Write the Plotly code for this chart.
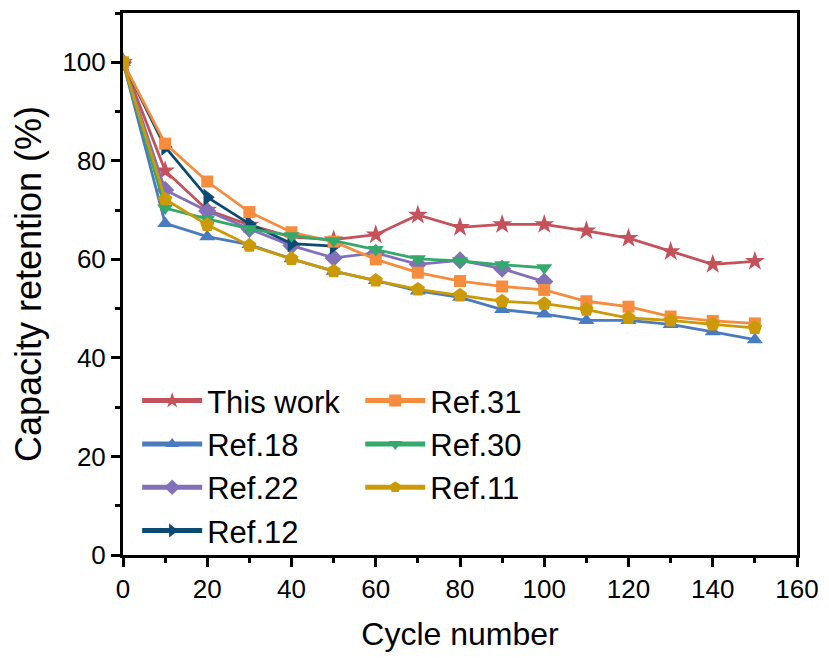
import plotly.graph_objects as go

cycles = [0, 10, 20, 30, 40, 50, 60, 70, 80, 90, 100, 110, 120, 130, 140, 150]

this_work = [100, 78.0, 70.0, 67.0, 64.5, 64.0, 65.0, 69.0, 66.5, 67.1, 67.1, 65.8, 64.3, 61.6, 59.0, 59.6]
ref18 = [100, 67.3, 64.6, 63.0, 60.1, 57.6, 55.7, 53.6, 52.3, 49.8, 48.9, 47.6, 47.6, 46.8, 45.3, 43.7]
ref22 = [100, 74.1, 69.8, 66.2, 62.8, 60.3, 61.3, 59.0, 59.8, 58.1, 55.5]
ref12 = [100, 82.8, 72.6, 67.2, 63.2, 62.7]
ref31 = [100, 83.5, 75.8, 69.6, 65.5, 63.6, 60.0, 57.3, 55.6, 54.5, 53.8, 51.5, 50.4, 48.4, 47.5, 47.0]
ref30 = [100, 70.4, 68.2, 66.2, 64.8, 63.8, 62.0, 60.1, 59.7, 58.9, 58.3]
ref11 = [100, 72.2, 67.0, 62.8, 60.1, 57.6, 55.7, 53.9, 52.7, 51.5, 51.0, 49.8, 48.1, 47.6, 46.8, 46.1]

series = [
    ("This work", this_work, "#C5525A", "star", 15, "legend"),
    ("Ref.18", ref18, "#4A7BBE", "triangle-up", 14, "legend"),
    ("Ref.22", ref22, "#8270B8", "diamond", 14, "legend"),
    ("Ref.12", ref12, "#0B4A72", "triangle-right", 15, "legend"),
    ("Ref.31", ref31, "#F58C3E", "square", 12, "legend2"),
    ("Ref.30", ref30, "#35A86B", "triangle-down", 14, "legend2"),
    ("Ref.11", ref11, "#CC9A06", "pentagon", 15, "legend2"),
]

fig = go.Figure()
for name, vals, col, sym, sz, lg in series:
    fig.add_trace(go.Scatter(
        x=cycles[:len(vals)], y=vals, name=name, mode="lines+markers",
        line=dict(color=col, width=2.8),
        marker=dict(symbol=sym, size=sz, color=col, line=dict(width=0)),
        legend=lg,
    ))

legend_font = dict(family="Liberation Sans, Arial, sans-serif", size=31, color="black")
fig.update_layout(
    width=829, height=662,
    margin=dict(l=123, r=29, t=10, b=107),
    paper_bgcolor="white", plot_bgcolor="white",
    showlegend=True,
    legend=dict(x=0.021, y=0.334, xanchor="left", yanchor="top", font=legend_font,
                bgcolor="rgba(0,0,0,0)", tracegroupgap=0, itemwidth=60, itemsizing="constant"),
    legend2=dict(x=0.352, y=0.334, xanchor="left", yanchor="top", font=legend_font,
                 bgcolor="rgba(0,0,0,0)", tracegroupgap=0, itemwidth=60, itemsizing="constant"),
)
tickfont = dict(family="Liberation Sans, Arial, sans-serif", size=26, color="black")
xtitlefont = dict(family="Liberation Sans, Arial, sans-serif", size=32, color="black")
ytitlefont = dict(family="Liberation Sans, Arial, sans-serif", size=36, color="black")
fig.update_xaxes(
    range=[0, 160], tickmode="linear", tick0=0, dtick=20,
    ticks="outside", ticklen=9, tickwidth=3, tickcolor="black",
    minor=dict(ticks="outside", ticklen=5, tickwidth=2.5, dtick=10, tickcolor="black"),
    showline=True, linewidth=3, linecolor="black", mirror=True,
    showgrid=False, zeroline=False, tickfont=tickfont,
    title=dict(text="Cycle number", font=xtitlefont, standoff=20),
)
fig.update_yaxes(
    range=[0, 110], tickmode="linear", tick0=0, dtick=20,
    ticks="outside", ticklen=9, tickwidth=3, tickcolor="black",
    minor=dict(ticks="outside", ticklen=5, tickwidth=2.5, dtick=10, tickcolor="black"),
    showline=True, linewidth=3, linecolor="black", mirror=True,
    showgrid=False, zeroline=False, tickfont=tickfont,
    title=dict(text="Capacity retention (%)", font=ytitlefont, standoff=10),
)
fig.write_html("out.html")
